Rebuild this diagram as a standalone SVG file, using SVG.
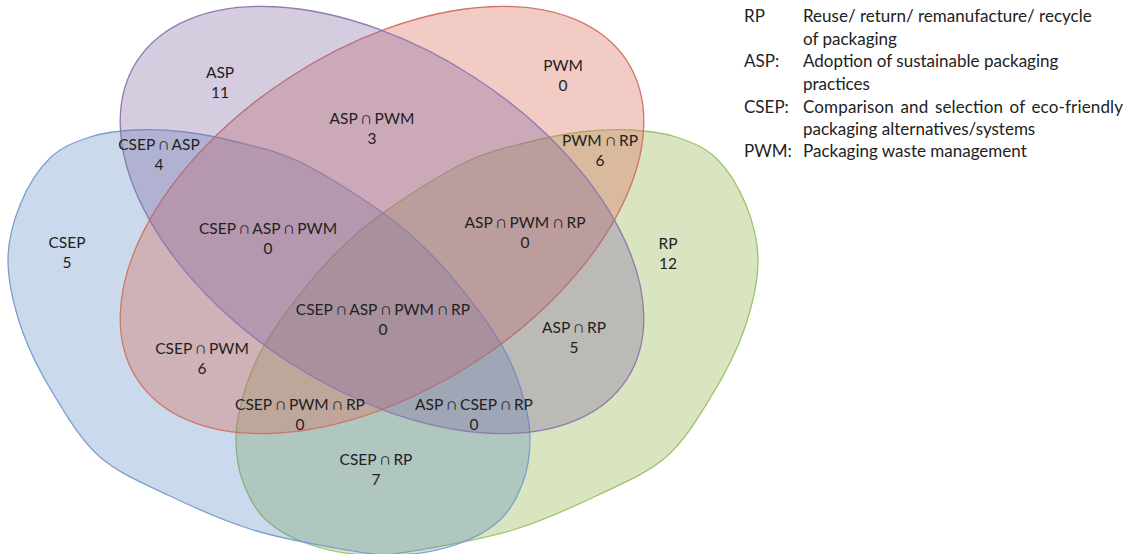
<svg xmlns="http://www.w3.org/2000/svg" width="1133" height="554" viewBox="0 0 1133 554">
<defs>
<style>
.lbl{font-family:Lato,"DejaVu Sans",sans-serif;font-size:15.5px;fill:#222;text-anchor:middle}
.leg{font-family:Lato,"DejaVu Sans",sans-serif;font-size:17px;fill:#222}
.set{stroke-width:1.3}
</style>
<path id="drop" d="M8,262 C7.67,241.17 13,222.33 20,205 C27,187.67 38.33,169.33 50,158 C61.67,146.67 75.83,141.67 90,137 C104.17,132.33 119.17,130.83 135,130 C150.83,129.17 168,130 185,132 C202,134 217.830,137 237,142 C256.17,147 275.67,150.17 300,162 C324.33,173.83 361,197.5 383,213 C405,228.5 416.17,238.83 432,255 C447.83,271.17 465.5,293.33 478,310 C490.5,326.67 499.33,340 507,355 C514.67,370 520.17,385.83 524,400 C527.83,414.17 530.17,426.33 530,440 C529.83,453.67 528,468.67 523,482 C518,495.33 511.33,509.5 500,520 C488.67,530.5 472.5,539.17 455,545 C437.5,550.83 415.83,554.67 395,555 C374.17,555.33 354.17,551.33 330,547 C305.83,542.67 276.67,537.5 250,529 C223.33,520.5 195,508 170,496 C145,484 119.33,473.83 100,457 C80.67,440.17 67,416.17 54,395 C41,373.83 29.67,352.17 22,330 C14.33,307.83 8.33,282.83 8,262 Z"/>
</defs>
<rect width="1133" height="554" fill="#ffffff"/>
<g id="set-RP"><use href="#drop" class="set" transform="matrix(-1 0 0 1 766 0)" fill="#9bbb59" fill-opacity="0.38" stroke="#9cc46a"/></g>
<g id="set-CSEP"><use href="#drop" class="set" fill="#4f81bd" fill-opacity="0.3" stroke="#7b9fd0"/></g>
<g id="set-PWM"><ellipse class="set" cx="382" cy="220" rx="292" ry="170" transform="rotate(-33 382 220)" fill="#d9695a" fill-opacity="0.35" stroke="#d0766a"/></g>
<g id="set-ASP"><ellipse class="set" cx="382" cy="220" rx="292" ry="170" transform="rotate(33 382 220)" fill="#8064a2" fill-opacity="0.33" stroke="#8e7cae"/></g>
<g id="connectors"></g>
<g id="labels">
<g id="n-asp"><text class="lbl" x="220" y="77.5">ASP</text><text class="lbl" x="220" y="97.5">11</text></g>
<g id="n-pwm"><text class="lbl" x="563" y="71">PWM</text><text class="lbl" x="563" y="91">0</text></g>
<g id="n-asp-pwm"><text class="lbl" x="372" y="123.5">ASP ∩ PWM</text><text class="lbl" x="372" y="143.5">3</text></g>
<g id="n-csep-asp"><text class="lbl" x="159" y="149.5">CSEP ∩ ASP</text><text class="lbl" x="159" y="169.5">4</text></g>
<g id="n-pwm-rp"><text class="lbl" x="600" y="146">PWM ∩ RP</text><text class="lbl" x="600" y="166">6</text></g>
<g id="n-csep"><text class="lbl" x="67" y="247.5">CSEP</text><text class="lbl" x="67" y="267.5">5</text></g>
<g id="n-csep-asp-pwm"><text class="lbl" x="268" y="233.5">CSEP ∩ ASP ∩ PWM</text><text class="lbl" x="268" y="253.5">0</text></g>
<g id="n-asp-pwm-rp"><text class="lbl" x="525" y="227.5">ASP ∩ PWM ∩ RP</text><text class="lbl" x="525" y="247.5">0</text></g>
<g id="n-rp"><text class="lbl" x="668" y="248.5">RP</text><text class="lbl" x="668" y="268.5">12</text></g>
<g id="n-all"><text class="lbl" x="383" y="314.5">CSEP ∩ ASP ∩ PWM ∩ RP</text><text class="lbl" x="383" y="334.5">0</text></g>
<g id="n-asp-rp"><text class="lbl" x="574" y="332.5">ASP ∩ RP</text><text class="lbl" x="574" y="352.5">5</text></g>
<g id="n-csep-pwm"><text class="lbl" x="202" y="353.5">CSEP ∩ PWM</text><text class="lbl" x="202" y="373.5">6</text></g>
<g id="n-csep-pwm-rp"><text class="lbl" x="300" y="409.5">CSEP ∩ PWM ∩ RP</text><text class="lbl" x="300" y="429.5">0</text></g>
<g id="n-asp-csep-rp"><text class="lbl" x="474" y="409.5">ASP ∩ CSEP ∩ RP</text><text class="lbl" x="474" y="429.5">0</text></g>
<g id="n-csep-rp"><text class="lbl" x="376" y="464.5">CSEP ∩ RP</text><text class="lbl" x="376" y="484.5">7</text></g>
</g>
<g id="legend">
<text class="leg" x="744" y="22">RP</text>
<text class="leg" x="803" y="22">Reuse/ return/ remanufacture/ recycle</text>
<text class="leg" x="803" y="44.5">of packaging</text>
<text class="leg" x="744" y="67">ASP:</text>
<text class="leg" x="803" y="67">Adoption of sustainable packaging</text>
<text class="leg" x="803" y="89.5">practices</text>
<text class="leg" x="744" y="112.5">CSEP:</text>
<text class="leg" x="803" y="112.5" textLength="320" lengthAdjust="spacing" word-spacing="2">Comparison and selection of eco-friendly</text>
<text class="leg" x="803" y="135">packaging alternatives/systems</text>
<text class="leg" x="744" y="157">PWM:</text>
<text class="leg" x="803" y="157">Packaging waste management</text>
</g>
</svg>
